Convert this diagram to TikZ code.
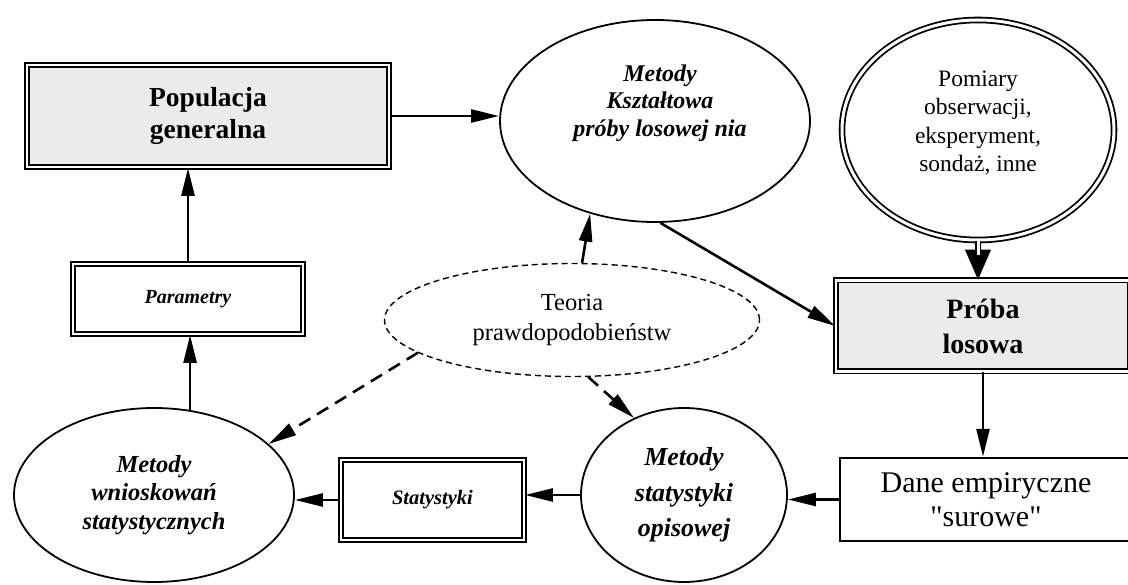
\documentclass[tikz,border=0pt]{standalone}
\usepackage{fontspec}
\setmainfont{Liberation Serif}
\newfontfamily\rawserif{Liberation Serif}[Ligatures=TeXOff]
\usetikzlibrary{arrows.meta,shapes.geometric}
\begin{document}
\begin{tikzpicture}[x=1pt,y=-1pt,
  box/.style={rectangle, draw, line width=1.8pt, double=white, double distance=2.4pt, inner sep=0pt, align=center},
  ell/.style={ellipse, draw, line width=1.8pt, inner sep=0pt, align=center},
  arr/.style={line width=2.6pt, -{Triangle[length=28pt,width=13pt]}},
  darr/.style={arr, dash pattern=on 13pt off 8pt},
  bigtip/.style={line width=1pt, -{Triangle[length=30pt,width=26pt]}},
  dblshaft/.style={line width=1.8pt, double=white, double distance=3pt, shorten >=25pt},
  grayfill/.style={fill=black!8}
]
\useasboundingbox (0,0) rectangle (1128,585);
\clip (0,0) rectangle (1128,585);

% nodes
\node[box, grayfill, minimum width=362pt, minimum height=102pt,
      font=\fontsize{27.5}{32}\selectfont\bfseries] (pop) at (208,116) {Populacja\\generalna};

\node[ell, minimum width=310pt, minimum height=202pt] (ksz) at (655,121) {};
\node[align=center, font=\fontsize{24}{27.5}\selectfont\bfseries\itshape] (kszT) at (660,103)
      {Metody\\Kształtowa\\próby losowej nia};

\node[ell, line width=1.8pt, double=white, double distance=3pt,
      minimum width=272pt, minimum height=220pt] (pom) at (978,130) {};
\node[align=center, font=\fontsize{23.5}{28.5}\selectfont] (pomT) at (978,123)
      {Pomiary\\obserwacji,\\eksperyment,\\sondaż, inne};

\node[box, grayfill, minimum width=294pt, minimum height=91pt,
      font=\fontsize{28}{35}\selectfont\bfseries] (pr) at (983,326) {Próba\\losowa};

\node[draw, line width=2.4pt, inner sep=0pt, minimum width=292pt, minimum height=83pt,
      align=center, font=\rawserif\fontsize{30}{34}\selectfont] (dane) at (986,499.5) {Dane empiryczne\\"surowe"};

\node[ell, minimum width=206pt, minimum height=174pt,
      font=\fontsize{26}{35.5}\selectfont\bfseries\itshape] (op) at (684,495) {Metody\\statystyki\\opisowej};

\node[box, minimum width=183pt, minimum height=80pt,
      font=\fontsize{20.5}{24}\selectfont\bfseries\itshape] (stat) at (432.5,500) {Statystyki};

\node[ell, minimum width=280pt, minimum height=174pt,
      font=\fontsize{24.5}{28.5}\selectfont\bfseries\itshape] (wn) at (154,495) {Metody\\wnioskowań\\statystycznych};

\node[box, minimum width=230pt, minimum height=70pt,
      font=\fontsize{20}{24}\selectfont\bfseries\itshape] (par) at (188,299) {Parametry};

\node[ellipse, draw, line width=1.4pt, dash pattern=on 6pt off 4pt, inner sep=0pt,
      minimum width=375pt, minimum height=113pt, align=center,
      font=\fontsize{24.5}{30}\selectfont] (teo) at (572,320) {Teoria\\prawdopodobieństw};

% connectors
\draw[arr] (pop.east) -- (pop.east -| ksz.west);
\draw[arr] (ksz.-87) -- (pr.west);
\draw[bigtip] (pom.south) -- (pom.south |- pr.north);
\draw[dblshaft] (pom.south) -- (pom.south |- pr.north);
\draw[arr] (pr.south) -- (pr.south |- dane.north);
\draw[arr] (dane.west) -- (dane.west -| op.east);
\draw[arr] (op.west) -- (op.west -| stat.east);
\draw[arr] (stat.west) -- (stat.west -| wn.east);
\draw[arr] (wn.67) -- (wn.67 |- par.south);
\draw[arr] (par.north) -- (par.north |- pop.south);
\draw[arr] (teo.80) -- (ksz.235);
\draw[darr] (teo.192) -- (wn.24);
\draw[darr] (teo.286) -- (op.123);
\end{tikzpicture}
\end{document}
